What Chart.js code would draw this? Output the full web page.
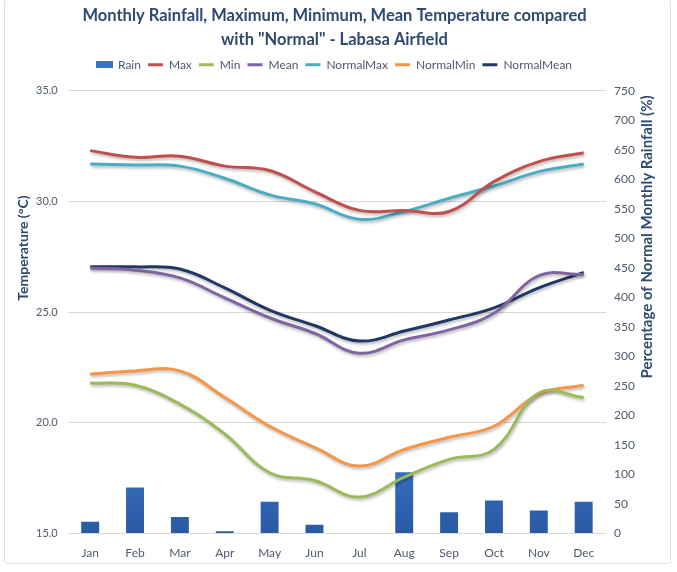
<!DOCTYPE html>
<html>
<head>
<meta charset="utf-8">
<script src="https://cdn.jsdelivr.net/npm/chart.js@4/dist/chart.umd.min.js"></script>
<style>
  html, body { margin: 0; padding: 0; background: #ffffff; }
  #wrap { position: relative; width: 677px; height: 572px; }
  #frame { position: absolute; left: 4px; top: -2px; width: 667px; height: 566px; border: 1px solid #dde3ea; border-radius: 4px; box-sizing: border-box; }
  canvas { position: absolute; left: 0; top: 0; }
</style>
</head>
<body>
<div id="wrap">
  <div id="frame"></div>
  <canvas id="c" width="677" height="572"></canvas>
</div>
<script>
// Labasa Airfield monthly observations vs. long-term normals
const months = ['Jan','Feb','Mar','Apr','May','Jun','Jul','Aug','Sep','Oct','Nov','Dec'];
const rainPctOfNormal = [20, 78, 28, 4, 54, 15, 0, 104, 36, 56, 39, 54];
const maxTemp   = [32.3, 32.0, 32.05, 31.6, 31.4, 30.45, 29.6, 29.6, 29.55, 30.9, 31.8, 32.2];
const minTemp   = [21.8, 21.7, 20.85, 19.5, 17.75, 17.4, 16.65, 17.55, 18.35, 18.8, 21.35, 21.15];
const meanTemp  = [27.0, 26.9, 26.55, 25.65, 24.75, 24.05, 23.15, 23.75, 24.2, 24.95, 26.65, 26.7];
const normalMax  = [31.7, 31.65, 31.6, 31.05, 30.3, 29.9, 29.2, 29.55, 30.15, 30.7, 31.35, 31.7];
const normalMin  = [22.2, 22.35, 22.35, 21.15, 19.85, 18.9, 18.05, 18.8, 19.35, 19.85, 21.3, 21.7];
const normalMean = [27.05, 27.05, 26.95, 26.1, 25.1, 24.4, 23.7, 24.15, 24.65, 25.2, 26.1, 26.8];
const tempTicks = [15, 20, 25, 30, 35];
const leftTitle = 'Temperature (°C)';
const rightTitle = 'Percentage of Normal Monthly Rainfall (%)';

const FONT = 'Lato, "Open Sans", sans-serif';
const GREY = '#4F5A6E';
const NAVY = '#2E4A70';
const RAIN = '#3A72C4';

// soft drop shadow under the temperature lines
const lineShadow = {
  id: 'lineShadow',
  beforeDatasetDraw(chart, args) {
    if (args.meta.type !== 'line') return;
    const ctx = chart.ctx;
    ctx.save();
    ctx.shadowColor = 'rgba(0,0,0,0.28)';
    ctx.shadowBlur = 3;
    ctx.shadowOffsetX = 1;
    ctx.shadowOffsetY = 2;
  },
  afterDatasetDraw(chart, args) {
    if (args.meta.type !== 'line') return;
    chart.ctx.restore();
  }
};

// a little extra room between the legend and the plot
const legendGap = {
  id: 'legendGap',
  beforeInit(chart) {
    const legend = chart.legend;
    const fit = legend.fit;
    legend.fit = function () {
      fit.call(legend);
      legend.height += 10;
    };
  }
};

// rotated axis titles, placed beside the tick labels
const axisTitles = {
  id: 'axisTitles',
  afterDraw(chart) {
    const ctx = chart.ctx;
    const y = chart.scales.y, y1 = chart.scales.y1;
    const top = chart.chartArea.top, h = chart.chartArea.bottom - top;
    ctx.save();
    ctx.fillStyle = NAVY;
    ctx.font = 'bold 14px ' + FONT;
    ctx.textAlign = 'center';
    ctx.textBaseline = 'middle';
    ctx.translate(y.left - 3, top + h * 0.355);
    ctx.rotate(-Math.PI / 2);
    ctx.fillText(leftTitle, 0, 0);
    ctx.restore();

    ctx.save();
    ctx.fillStyle = NAVY;
    ctx.font = 'bold 15px ' + FONT;
    ctx.textAlign = 'center';
    ctx.textBaseline = 'middle';
    ctx.translate(y1.right + 4, top + h * 0.33);
    ctx.rotate(-Math.PI / 2);
    ctx.fillText(rightTitle, 0, 0);
    ctx.restore();
  }
};

function barFill(context) {
  const chart = context.chart;
  const area = chart.chartArea;
  if (!area) return RAIN;
  const g = chart.ctx.createLinearGradient(0, area.bottom - 110, 0, area.bottom);
  g.addColorStop(0, '#3C7BD3');
  g.addColorStop(1, '#2A5AA3');
  return g;
}

// wide rectangle swatch for the rainfall legend entry
const rainSwatch = document.createElement('canvas');
rainSwatch.width = 17; rainSwatch.height = 7;
(function () {
  const c = rainSwatch.getContext('2d');
  c.fillStyle = RAIN;
  c.fillRect(0, 0, 17, 7);
})();

function lineSet(label, data, color) {
  return {
    type: 'line', label, data, yAxisID: 'y',
    borderColor: color, backgroundColor: color,
    borderWidth: 3, tension: 0.4, pointRadius: 0, fill: false, order: 0
  };
}

new Chart(document.getElementById('c'), {
  data: {
    labels: months,
    datasets: [
      { type: 'bar', label: 'Rain', data: rainPctOfNormal, yAxisID: 'y1',
        backgroundColor: barFill, borderWidth: 0, categoryPercentage: 1, barPercentage: 0.4, order: 1 },
      lineSet('Max', maxTemp, '#C0504D'),
      lineSet('Min', minTemp, '#9BBB59'),
      lineSet('Mean', meanTemp, '#8064A2'),
      lineSet('NormalMax', normalMax, '#4BACC6'),
      lineSet('NormalMin', normalMin, '#F79646'),
      lineSet('NormalMean', normalMean, '#1F3864')
    ]
  },
  options: {
    responsive: false,
    animation: false,
    layout: { padding: { left: 26, right: 34, top: 4, bottom: 8 } },
    plugins: {
      title: {
        display: true,
        text: ['Monthly Rainfall, Maximum, Minimum, Mean Temperature compared', 'with "Normal" - Labasa Airfield'],
        color: NAVY,
        font: { family: FONT, size: 16.5, weight: 'bold', lineHeight: 1.45 },
        padding: { top: 0, bottom: 0 }
      },
      legend: {
        position: 'top',
        labels: {
          usePointStyle: true,
          pointStyleWidth: 15,
          boxWidth: 17, boxHeight: 7,
          padding: 7,
          color: GREY,
          font: { family: FONT, size: 12 },
          generateLabels(chart) {
            return chart.data.datasets.map((ds, i) => ({
              text: ds.label,
              datasetIndex: i,
              fillStyle: ds.type === 'bar' ? RAIN : ds.borderColor,
              strokeStyle: ds.type === 'bar' ? RAIN : ds.borderColor,
              lineWidth: ds.type === 'bar' ? 0 : 3,
              pointStyle: ds.type === 'bar' ? rainSwatch : 'line',
              fontColor: GREY,
              hidden: false
            }));
          }
        }
      },
      tooltip: { enabled: false }
    },
    scales: {
      x: {
        grid: { display: false },
        border: { display: false },
        ticks: { color: GREY, font: { family: FONT, size: 12 }, padding: 4 }
      },
      y: {
        position: 'left',
        min: 15, max: 35,
        afterBuildTicks(axis) { axis.ticks = tempTicks.map(v => ({ value: v })); },
        ticks: { color: GREY, font: { family: FONT, size: 11 }, padding: 10, callback: v => Number(v).toFixed(1) },
        grid: { color: '#D9D9D9', lineWidth: 1, drawTicks: false },
        border: { display: false }
      },
      y1: {
        position: 'right',
        min: 0, max: 750,
        ticks: { stepSize: 50, color: GREY, font: { family: FONT, size: 12 }, padding: 8 },
        grid: { drawOnChartArea: false, drawTicks: false },
        border: { display: false }
      }
    }
  },
  plugins: [legendGap, lineShadow, axisTitles]
});
</script>
</body>
</html>
